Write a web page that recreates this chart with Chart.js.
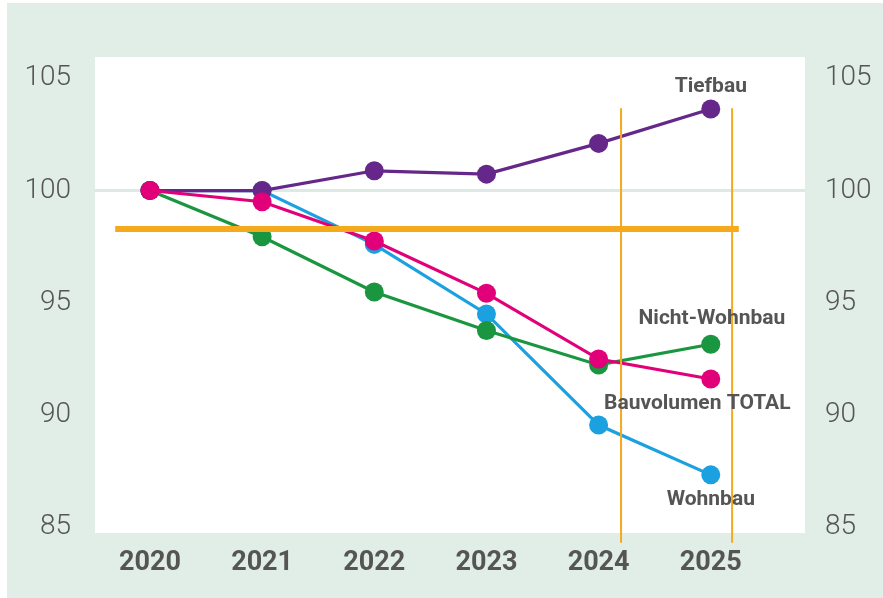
<!DOCTYPE html>
<html>
<head>
<meta charset="utf-8">
<script src="https://cdn.jsdelivr.net/npm/chart.js@4/dist/chart.umd.min.js"></script>
<style>
  html, body { margin: 0; padding: 0; background: #ffffff; }
  #wrap { position: absolute; left: 7px; top: 3px; width: 876px; height: 595px; background: #e1eee7; }
  #chart { position: absolute; left: 0; top: 0; }
</style>
</head>
<body>
<div id="wrap"></div>
<canvas id="chart" width="883" height="598"></canvas>
<script>
// years and index values (2020 = 100)
const years = [2020, 2021, 2022, 2023, 2024, 2025];
const yTicks = [85, 90, 95, 100, 105];

const tiefbau = [100, 100, 100.88, 100.73, 102.1, 103.63];
const bauvolumenTotal = [100, 99.5, 97.75, 95.42, 92.49, 91.6];
const nichtWohnbau = [100, 97.94, 95.48, 93.76, 92.23, 93.15];
const wohnbau = [100, 100, 97.6, 94.5, 89.55, 87.33];

// orange marker lines
const markerLevel = 98.29;
const markerFrom = 2019.69;
const markerTo = 2025.25;
const markerYears = [2024.2, 2025.19];
const markerTop = 103.67;
const markerBottom = 84.3;

// series labels: [text, x, y]
const seriesLabels = [
  ["Tiefbau", 2025, 104.61],
  ["Nicht-Wohnbau", 2025.01, 94.28],
  ["Bauvolumen TOTAL", 2024.88, 90.49],
  ["Wohnbau", 2025, 86.21]
];

const textGray = "#555555";

function series(label, values, color, order) {
  return {
    label: label,
    data: years.map((y, i) => ({ x: y, y: values[i] })),
    borderColor: color,
    backgroundColor: color,
    pointBackgroundColor: color,
    pointBorderColor: color,
    borderWidth: 3.2,
    pointRadius: 9.5,
    pointBorderWidth: 0,
    tension: 0,
    order: order
  };
}

function orangeLine(points) {
  return {
    label: "marker",
    data: points,
    borderColor: "#f5aa1e",
    borderWidth: 2,
    pointRadius: 0,
    clip: false,
    order: -1
  };
}

const datasets = [
  series("Bauvolumen TOTAL", bauvolumenTotal, "#e2007a", 0),
  series("Tiefbau", tiefbau, "#66278a", 1),
  series("Nicht-Wohnbau", nichtWohnbau, "#19963f", 2),
  series("Wohnbau", wohnbau, "#1ba1df", 3),
  Object.assign(orangeLine([{ x: markerFrom, y: markerLevel }, { x: markerTo, y: markerLevel }]), { borderWidth: 6 }),
  orangeLine([{ x: markerYears[0], y: markerTop }, { x: markerYears[0], y: markerBottom }]),
  orangeLine([{ x: markerYears[1], y: markerTop }, { x: markerYears[1], y: markerBottom }])
];

// white plot area
const plotBackground = {
  id: "plotBackground",
  beforeDraw(chart) {
    const a = chart.chartArea;
    const c = chart.ctx;
    c.save();
    c.fillStyle = "#ffffff";
    c.fillRect(a.left, a.top, a.right - a.left, a.bottom - a.top);
    c.restore();
  }
};

// series names next to the lines
const seriesText = {
  id: "seriesText",
  afterDatasetsDraw(chart) {
    const c = chart.ctx;
    const xs = chart.scales.x, ys = chart.scales.y;
    c.save();
    c.font = "bold 21px Roboto";
    c.fillStyle = textGray;
    c.textAlign = "center";
    c.textBaseline = "middle";
    seriesLabels.forEach(([t, x, y]) => {
      c.fillText(t, xs.getPixelForValue(x), ys.getPixelForValue(y));
    });
    c.restore();
  }
};

const yMin = 84.74, yMax = 105.95;

function yAxis(position, width, pad) {
  return {
    type: "linear",
    position: position,
    min: yMin,
    max: yMax,
    border: { display: false },
    grid: {
      display: position === "left",
      drawTicks: false,
      lineWidth: 3,
      color: (ctx) => (ctx.tick && ctx.tick.value === 100 ? "#dde9e3" : "rgba(0,0,0,0)")
    },
    ticks: {
      padding: pad,
      color: textGray,
      font: { family: "Roboto", weight: 300, size: 28 }
    },
    afterBuildTicks: (axis) => { axis.ticks = yTicks.map(v => ({ value: v })); },
    afterFit: (axis) => { axis.width = width; }
  };
}

new Chart(document.getElementById("chart"), {
  type: "line",
  data: { datasets: datasets },
  options: {
    responsive: false,
    animation: false,
    layout: { padding: { top: 57, left: 0, right: 0, bottom: 0 } },
    plugins: { legend: { display: false }, tooltip: { enabled: false } },
    scales: {
      x: {
        type: "linear",
        min: 2019.51,
        max: 2025.84,
        border: { display: false },
        grid: { display: false, drawTicks: false },
        ticks: {
          padding: 14,
          color: textGray,
          font: { family: "Roboto", weight: "bold", size: 27 },
          callback: (v) => String(v)
        },
        afterBuildTicks: (axis) => { axis.ticks = years.map(v => ({ value: v })); },
        afterFit: (axis) => { axis.height = 65; }
      },
      y: yAxis("left", 95, 24),
      y2: yAxis("right", 78, 20)
    }
  },
  plugins: [plotBackground, seriesText]
});
</script>
</body>
</html>
